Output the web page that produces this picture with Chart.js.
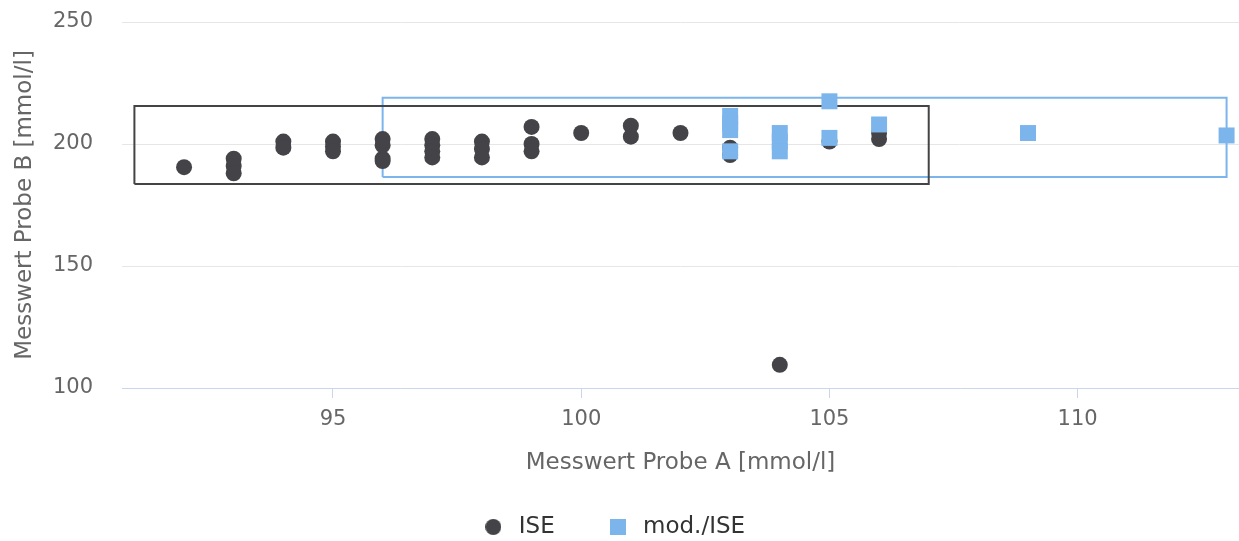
<!DOCTYPE html>
<html lang="de">
<head>
<meta charset="UTF-8">
<title>Messwert Probe A / B</title>
<script src="https://cdn.jsdelivr.net/npm/chart.js"></script>
<style>
    html, body { margin: 0; padding: 0; background: #ffffff; }
    #wrap { width: 1239px; height: 541px; position: relative; }
</style>
</head>
<body>
<div id="wrap"><canvas id="chart"></canvas></div>
<script>
    // ISE
    const iseX = [92, 93, 93, 93, 94, 94, 95, 95, 95, 96, 96, 96, 96, 97, 97, 97, 97, 98, 98, 98,
                  99, 99, 99, 100, 101, 101, 102, 103, 103, 104, 105, 106, 106];
    const iseY = [190.5, 194, 191, 188, 201, 198.5, 201, 199, 197, 202, 199.5, 194, 193, 202, 199.5, 197, 194.5, 201, 198, 194.5,
                  207, 200, 197, 204.5, 207.5, 203, 204.5, 198.5, 195.5, 109.5, 201, 204.5, 202];
    // mod./ISE
    const modX = [103, 103, 103, 103, 104, 104, 104, 105, 105, 106, 109, 113];
    const modY = [211.5, 208.5, 205.7, 197, 204.5, 201, 197, 217.5, 202.5, 208, 204.5, 203.5];
    // Rahmen
    const iseBoxX = [91, 107];
    const iseBoxY = [183.6, 215.6];
    const modBoxX = [96, 113];
    const modBoxY = [186.5, 219];

    const xTicks = [95, 100, 105, 110];
    const yTicks = [100, 150, 200, 250];

    const seriesNames = ['ISE', 'mod./ISE'];
    const colDark = '#434348';
    const colBlue = '#7cb5ec';

    function pts(xs, ys) {
        return xs.map((x, i) => ({ x: x, y: ys[i] }));
    }
    function box(bx, by) {
        return [
            { x: bx[0], y: by[0] }, { x: bx[1], y: by[0] },
            { x: bx[1], y: by[1] }, { x: bx[0], y: by[1] },
            { x: bx[0], y: by[0] }
        ];
    }
    function legendIcon(color, round) {
        const c = document.createElement('canvas');
        c.width = 16; c.height = 16;
        const g = c.getContext('2d');
        g.fillStyle = color;
        if (round) {
            g.beginPath();
            g.arc(8, 8, 8, 0, Math.PI * 2);
            g.fill();
        } else {
            g.fillRect(0, 0, 16, 16);
        }
        return c;
    }
    const icons = [legendIcon(colDark, true), legendIcon(colBlue, false)];

    const font = "'DejaVu Sans', sans-serif";

    new Chart(document.getElementById('chart'), {
        type: 'scatter',
        data: {
            datasets: [
                {
                    label: seriesNames[0],
                    data: pts(iseX, iseY),
                    pointStyle: 'circle',
                    pointRadius: 8,
                    pointHoverRadius: 8,
                    backgroundColor: colDark,
                    borderWidth: 0,
                    order: 2,
                    clip: false
                },
                {
                    label: seriesNames[1],
                    data: pts(modX, modY),
                    pointStyle: 'rect',
                    pointRadius: 11.3,
                    pointHoverRadius: 11.3,
                    backgroundColor: colBlue,
                    borderWidth: 0,
                    order: 1,
                    clip: false
                },
                {
                    label: 'box1',
                    type: 'line',
                    data: box(iseBoxX, iseBoxY),
                    showLine: true,
                    borderColor: '#444444',
                    borderWidth: 2,
                    pointRadius: 0,
                    fill: false,
                    tension: 0,
                    order: 3,
                    clip: false
                },
                {
                    label: 'box2',
                    type: 'line',
                    data: box(modBoxX, modBoxY),
                    showLine: true,
                    borderColor: colBlue,
                    borderWidth: 2,
                    pointRadius: 0,
                    fill: false,
                    tension: 0,
                    order: 3,
                    clip: false
                }
            ]
        },
        options: {
            responsive: true,
            maintainAspectRatio: false,
            animation: false,
            layout: { autoPadding: false, padding: { top: 22, right: 0, left: 0, bottom: -7.5 } },
            plugins: {
                tooltip: { enabled: false },
                legend: {
                    position: 'bottom',
                    labels: {
                        usePointStyle: true,
                        pointStyleWidth: 28,
                        boxHeight: 16,
                        padding: 30,
                        color: '#333333',
                        font: { family: font, size: 23 },
                        // spaces in the text widen the gap / shift the row a bit left
                        generateLabels: () => seriesNames.map((n, i) => ({
                            text: i === 0 ? n + '\u2002 ' : n + '  ',
                            pointStyle: icons[i],
                            fillStyle: i ? colBlue : colDark,
                            strokeStyle: 'transparent',
                            lineWidth: 0,
                            fontColor: '#333333',
                            datasetIndex: i,
                            hidden: false
                        }))
                    }
                }
            },
            scales: {
                x: {
                    type: 'linear',
                    min: 90.75,
                    max: 113.25,
                    afterBuildTicks: s => { s.ticks = xTicks.map(v => ({ value: v })); },
                    afterFit: s => { s.height = 97.5; s.paddingLeft = 0; s.paddingRight = 0; },
                    grid: { drawOnChartArea: false, drawTicks: true, tickLength: 10, color: '#ccd6eb' },
                    border: { display: true, color: '#ccd6eb', width: 1 },
                    ticks: { color: '#666666', font: { family: font, size: 21 }, padding: 9, maxRotation: 0 },
                    title: {
                        display: true,
                        text: 'Messwert Probe A [mmol/l]',
                        color: '#666666',
                        font: { family: font, size: 23 },
                        padding: { top: 0, bottom: 8.7 }
                    }
                },
                y: {
                    type: 'linear',
                    min: 100,
                    max: 250,
                    afterBuildTicks: s => { s.ticks = yTicks.map(v => ({ value: v })); },
                    afterFit: s => { s.width = 122; s.paddingTop = 0; s.paddingBottom = 0; },
                    grid: { color: '#e6e6e6', drawTicks: false },
                    border: { display: false },
                    ticks: { color: '#666666', font: { family: font, size: 21 }, padding: 29 },
                    title: {
                        display: true,
                        text: 'Messwert Probe B [mmol/l]',
                        color: '#666666',
                        font: { family: font, size: 23 },
                        padding: { top: 11, bottom: 0 }
                    }
                }
            }
        }
    });
</script>
</body>
</html>
